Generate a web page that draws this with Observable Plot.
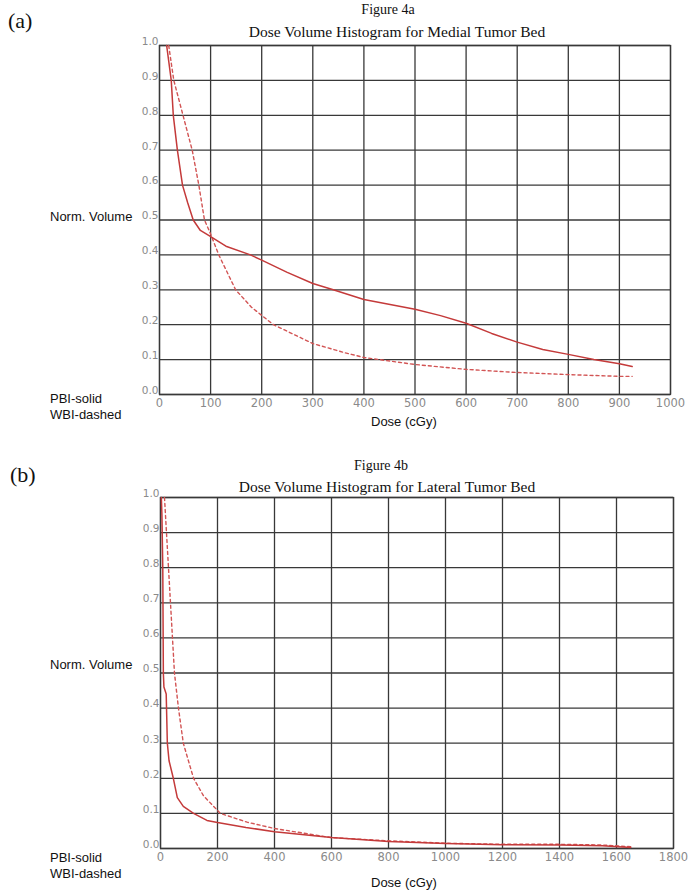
<!DOCTYPE html>
<html>
<head>
<meta charset="utf-8">
<script src="https://cdn.jsdelivr.net/npm/d3@7"></script>
<script src="https://cdn.jsdelivr.net/npm/@observablehq/plot@0.6"></script>
<style>
  html, body { margin: 0; padding: 0; background: #fff; }
  #wrap { position: relative; width: 688px; height: 894px; overflow: hidden; }
  .panel { position: absolute; left: 0; }
  .lab { position: absolute; white-space: nowrap; line-height: 1; transform: translateY(-50%); color: #111; }
  .ctr { transform: translate(-50%, -50%); }
  .serif { font-family: "Liberation Serif", "DejaVu Serif", serif; }
  .sans { font-family: "Liberation Sans", Arial, sans-serif; font-size: 13px; }
</style>
</head>
<body>
<div id="wrap"></div>
<script>
// ---------- Data ----------
// Panel (a): Medial tumor bed
const yTicks = [0, 0.1, 0.2, 0.3, 0.4, 0.5, 0.6, 0.7, 0.8, 0.9, 1.0];
const xTicksA = [0, 100, 200, 300, 400, 500, 600, 700, 800, 900, 1000];
const doseA_pbi = [14, 23, 27, 35, 45, 55, 66, 80, 97, 130, 178, 200, 250, 300, 340, 400, 500, 550, 600, 650, 700, 750, 800, 850, 900, 925];
const volA_pbi  = [1.0, 0.9, 0.8, 0.7, 0.6, 0.55, 0.5, 0.47, 0.455, 0.425, 0.4, 0.385, 0.35, 0.318, 0.3, 0.272, 0.244, 0.226, 0.204, 0.175, 0.15, 0.129, 0.115, 0.1, 0.088, 0.08];
const doseA_wbi = [18, 28, 46, 64, 77, 88, 100, 116, 149, 180, 223, 300, 362, 400, 500, 600, 700, 800, 900, 925];
const volA_wbi  = [1.0, 0.9, 0.8, 0.7, 0.6, 0.5, 0.46, 0.4, 0.3, 0.25, 0.2, 0.146, 0.12, 0.106, 0.086, 0.072, 0.063, 0.057, 0.052, 0.052];

// Panel (b): Lateral tumor bed
const xTicksB = [0, 200, 400, 600, 800, 1000, 1200, 1400, 1600, 1800];
const doseB_pbi = [3, 5, 8, 10, 12, 20, 24, 30, 45, 59, 80, 116, 163, 200, 300, 400, 600, 800, 1000, 1200, 1400, 1550, 1650];
const volB_pbi  = [1.0, 0.95, 0.8, 0.5, 0.46, 0.44, 0.3, 0.25, 0.2, 0.145, 0.12, 0.1, 0.08, 0.074, 0.06, 0.048, 0.031, 0.02, 0.014, 0.011, 0.01, 0.008, 0.003];
const doseB_wbi = [14, 28, 35, 42, 49, 63, 80, 116, 151, 210, 304, 400, 600, 800, 1000, 1200, 1400, 1550, 1650];
const volB_wbi  = [1.0, 0.8, 0.7, 0.6, 0.5, 0.4, 0.3, 0.2, 0.15, 0.1, 0.075, 0.057, 0.031, 0.022, 0.015, 0.012, 0.012, 0.01, 0.005];

const pair = (xs, ys) => xs.map((x, i) => ({dose: x, vol: ys[i]}));

const GRID = "#383838";
const RED_SOLID = "#c43a3a";
const RED_DASH = "#d25454";

function panel({xTicks, xMax, pbi, wbi, height, mt, mb, ml, mr}) {
  return Plot.plot({
    width: 688,
    height,
    marginTop: mt,
    marginBottom: mb,
    marginLeft: ml,
    marginRight: mr,
    style: {fontFamily: "DejaVu Sans", color: "#8a8a8a", background: "transparent", overflow: "visible"},
    x: {domain: [0, xMax], ticks: xTicks},
    y: {domain: [0, 1], ticks: yTicks},
    marks: [
      Plot.gridX(xTicks, {stroke: GRID, strokeOpacity: 1, strokeWidth: 1.3}),
      Plot.gridY(yTicks, {stroke: GRID, strokeOpacity: 1, strokeWidth: 1.3}),
      Plot.frame({stroke: GRID, strokeWidth: 1.3}),
      Plot.axisX(xTicks, {tickSize: 0, tickPadding: 4, fontSize: 11.5, label: null, tickFormat: d => String(d)}),
      Plot.axisY(yTicks, {tickSize: 0, tickPadding: 1, dy: -4, fontSize: 10.5, label: null, tickFormat: d => d.toFixed(1)}),
      Plot.line(wbi, {x: "dose", y: "vol", stroke: RED_DASH, strokeWidth: 1.4, strokeDasharray: "3,3"}),
      Plot.line(pbi, {x: "dose", y: "vol", stroke: RED_SOLID, strokeWidth: 1.5})
    ]
  });
}

const wrap = document.getElementById("wrap");

const pa = panel({xTicks: xTicksA, xMax: 1000, pbi: pair(doseA_pbi, volA_pbi), wbi: pair(doseA_wbi, volA_wbi),
  height: 440, mt: 45, mb: 46, ml: 159, mr: 18});
pa.classList.add("panel"); pa.style.top = "0px";
wrap.appendChild(pa);

const pb = panel({xTicks: xTicksB, xMax: 1800, pbi: pair(doseB_pbi, volB_pbi), wbi: pair(doseB_wbi, volB_wbi),
  height: 447, mt: 50, mb: 46, ml: 160, mr: 15});
pb.classList.add("panel"); pb.style.top = "447px";
wrap.appendChild(pb);

function label(text, cls, x, y, size, center) {
  const d = document.createElement("div");
  d.className = "lab " + cls + (center ? " ctr" : "");
  d.textContent = text;
  d.style.left = x + "px";
  d.style.top = y + "px";
  if (size) d.style.fontSize = size + "px";
  wrap.appendChild(d);
}

// Panel (a) texts
label("(a)", "serif", 8, 21, 22, false);
label("Figure 4a", "serif", 388, 10, 14, true);
label("Dose Volume Histogram for Medial Tumor Bed", "serif", 397, 32, 15.5, true);
label("Norm. Volume", "sans", 50, 216, 0, false);
label("PBI-solid", "sans", 50, 398, 0, false);
label("WBI-dashed", "sans", 50, 414, 0, false);
label("Dose  (cGy)", "sans", 371, 421, 0, false);

// Panel (b) texts
label("(b)", "serif", 10, 475, 22, false);
label("Figure 4b", "serif", 381, 466, 14, true);
label("Dose Volume Histogram for Lateral Tumor Bed", "serif", 387, 487, 15.5, true);
label("Norm. Volume", "sans", 50, 664, 0, false);
label("PBI-solid", "sans", 50, 857, 0, false);
label("WBI-dashed", "sans", 50, 873, 0, false);
label("Dose  (cGy)", "sans", 371, 882, 0, false);
</script>
</body>
</html>
